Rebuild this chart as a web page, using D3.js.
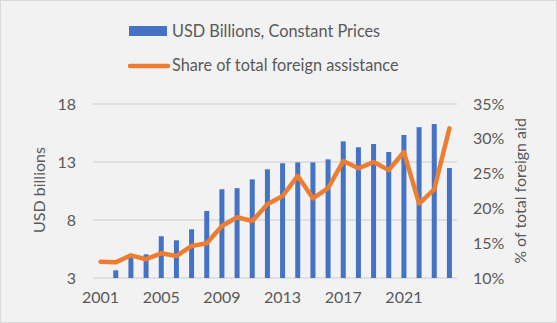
<!DOCTYPE html>
<html lang="en">
  <head>
    <meta charset="UTF-8" />
    <title>Foreign aid chart</title>
    <script src="https://cdnjs.cloudflare.com/ajax/libs/d3/7.8.5/d3.min.js"></script>
    <style>
      body {
        margin: 0;
        background: #fff;
      }
      text {
        font-family: Lato, "Liberation Sans", sans-serif;
        fill: #595959;
      }
      .tick text {
        font-size: 16px;
      }
      .axis path,
      .axis line {
        display: none;
      }
    </style>
  </head>
  <body>
    <div id="chart"></div>
    <script>
      // values
      const years = d3.range(2001, 2025);
      const usdBillions = [
        null, 3.66, 4.85, 5.04, 6.6, 6.25, 7.2, 8.78, 10.65, 10.74, 11.5, 12.37,
        12.89, 12.97, 12.97, 13.23, 14.78, 14.27, 14.55, 13.86, 15.33, 16.0,
        16.27, 12.48,
      ];
      const sharePct = [
        12.34, 12.25, 13.26, 12.7, 13.55, 13.16, 14.6, 14.98, 17.47, 18.72,
        18.19, 20.6, 21.78, 24.66, 21.45, 22.9, 26.8, 25.76, 26.67, 25.5, 28.1,
        20.7, 22.74, 31.5,
      ];
      const leftTicks = [3, 8, 13, 18];
      const rightTicks = [10, 15, 20, 25, 30, 35];
      const xTickYears = [2001, 2005, 2009, 2013, 2017, 2021];

      const W = 557,
        H = 323;
      const plot = { left: 93, right: 457, top: 104, bottom: 278 };

      const svg = d3
        .select("#chart")
        .append("svg")
        .attr("width", W)
        .attr("height", H);

      // background + border
      svg
        .append("rect")
        .attr("x", 0.5)
        .attr("y", 0.5)
        .attr("width", W - 1)
        .attr("height", H - 1)
        .attr("fill", "#f2f2f2")
        .attr("stroke", "#d9d9d9");

      const x = d3
        .scaleBand()
        .domain(years)
        .range([plot.left, plot.right])
        .paddingInner(0.67)
        .paddingOuter(0.335);

      const yLeft = d3
        .scaleLinear()
        .domain([3, 18])
        .range([plot.bottom, plot.top]);

      const yRight = d3
        .scaleLinear()
        .domain([10, 35])
        .range([plot.bottom, plot.top]);

      // gridlines
      svg
        .append("g")
        .selectAll("line")
        .data(leftTicks)
        .join("line")
        .attr("x1", plot.left)
        .attr("x2", plot.right)
        .attr("y1", (d) => yLeft(d))
        .attr("y2", (d) => yLeft(d))
        .attr("stroke", "#d9d9d9")
        .attr("stroke-width", 1.5);

      // bars
      svg
        .append("g")
        .selectAll("rect")
        .data(years.map((yr, i) => ({ yr, v: usdBillions[i] })).filter((d) => d.v != null))
        .join("rect")
        .attr("x", (d) => x(d.yr))
        .attr("width", x.bandwidth())
        .attr("y", (d) => yLeft(d.v))
        .attr("height", (d) => yLeft(3) - yLeft(d.v))
        .attr("fill", "#4472c4");

      // share line
      const line = d3
        .line()
        .x((d) => x(d.yr) + x.bandwidth() / 2)
        .y((d) => yRight(d.v));

      svg
        .append("path")
        .datum(years.map((yr, i) => ({ yr, v: sharePct[i] })))
        .attr("d", line)
        .attr("fill", "none")
        .attr("stroke", "#ed7d31")
        .attr("stroke-width", 4.5)
        .attr("stroke-linejoin", "round")
        .attr("stroke-linecap", "round");

      // axes
      svg
        .append("g")
        .attr("class", "axis")
        .attr("transform", `translate(${plot.left - 11},0)`)
        .call(d3.axisLeft(yLeft).tickValues(leftTicks).tickSize(0).tickPadding(6));

      svg
        .append("g")
        .attr("class", "axis")
        .attr("transform", `translate(${plot.right + 10},0)`)
        .call(
          d3
            .axisRight(yRight)
            .tickValues(rightTicks)
            .tickFormat((d) => d + "%")
            .tickSize(0)
            .tickPadding(6)
        );

      svg
        .append("g")
        .attr("class", "axis")
        .attr("transform", `translate(0,${plot.bottom + 8})`)
        .call(d3.axisBottom(x).tickValues(xTickYears).tickSize(0).tickPadding(6));

      // axis titles
      svg
        .append("text")
        .attr("transform", "translate(45,190) rotate(-90)")
        .attr("text-anchor", "middle")
        .style("font-size", "16px")
        .text("USD billions");

      svg
        .append("text")
        .attr("transform", "translate(526,191) rotate(-90)")
        .attr("text-anchor", "middle")
        .style("font-size", "16px")
        .text("% of total foreign aid");

      // legend
      const legend = svg.append("g");
      legend
        .append("rect")
        .attr("x", 129)
        .attr("y", 26)
        .attr("width", 38)
        .attr("height", 10)
        .attr("fill", "#4472c4");
      legend
        .append("text")
        .attr("x", 172)
        .attr("y", 37)
        .style("font-size", "16.3px")
        .text("USD Billions, Constant Prices");
      legend
        .append("line")
        .attr("x1", 130)
        .attr("x2", 168)
        .attr("y1", 66)
        .attr("y2", 66)
        .attr("stroke", "#ed7d31")
        .attr("stroke-width", 4.5)
        .attr("stroke-linecap", "round");
      legend
        .append("text")
        .attr("x", 172)
        .attr("y", 71)
        .style("font-size", "16.3px")
        .text("Share of total foreign assistance");
    </script>
  </body>
</html>
